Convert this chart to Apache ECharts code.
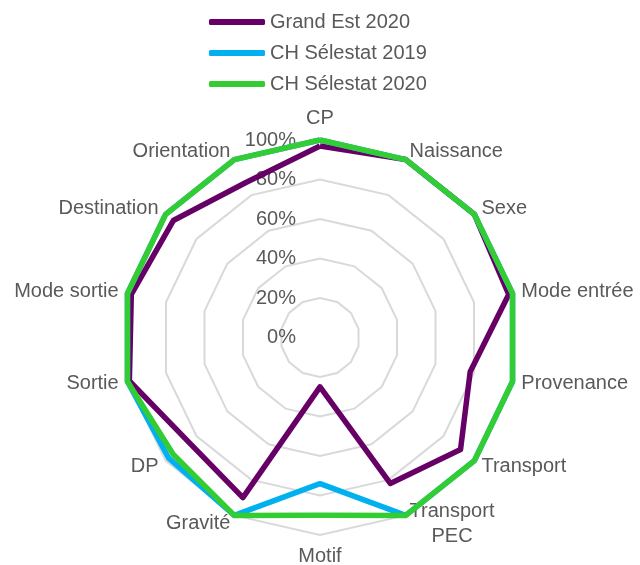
<!DOCTYPE html>
<html><head><meta charset="utf-8">
<script src="https://cdn.jsdelivr.net/npm/echarts@6/dist/echarts.min.js"></script>
<style>html,body{margin:0;padding:0;background:#fff}#c{width:640px;height:565px}</style>
</head><body><div id="c"></div>
<script>
// Categories in the reference's clockwise order, starting at the top
const categories = ['CP','Naissance','Sexe','Mode entrée','Provenance','Transport','Transport\nPEC','Motif','Gravité','DP','Sortie','Mode sortie','Destination','Orientation'];
const seriesNames = ['Grand Est 2020','CH Sélestat 2019','CH Sélestat 2020'];
const grandEst2020 = [0.97,1.00,1.00,0.98,0.78,0.91,0.82,0.25,0.90,0.85,0.99,0.98,0.95,0.87];
const selestat2019 = [1.00,1.00,1.00,1.00,1.00,1.00,1.00,0.74,1.00,0.98,1.00,1.00,1.00,1.00];
const selestat2020 = [1.00,1.00,1.00,1.00,1.00,1.00,1.00,0.90,1.00,0.95,1.00,1.00,1.00,1.00];
const tickLabels = ['0%','20%','40%','60%','80%','100%'];
const colors = ['#660066','#00B0F0','#33CC33'];

const FONT = 'Liberation Sans';
const TXT = '#595959';
// ECharts radar runs counter-clockwise: reorder so the picture runs clockwise
const order = [0].concat(categories.map((_, i) => i).slice(1).reverse());
const pick = arr => order.map(i => arr[i]);

const indicator = pick(categories).map((name, k) => {
  const ind = { name: name, min: 0, max: 1 };
  if (k === 0) {
    ind.axisLabel = {
      show: true, color: TXT, fontSize: 20, fontFamily: FONT, margin: 24,
      formatter: v => tickLabels[Math.round(v * 5)]
    };
  }
  return ind;
});

const chart = echarts.init(document.getElementById('c'), null, { renderer: 'canvas' });
chart.setOption({
  animation: false,
  backgroundColor: '#fff',
  color: colors,
  legend: {
    orient: 'vertical', left: 204, top: 7,
    itemWidth: 56, itemHeight: 6, itemGap: 11, icon: 'roundRect',
    textStyle: { color: TXT, fontSize: 20, fontFamily: FONT, lineHeight: 20 },
    data: seriesNames
  },
  radar: {
    center: [320, 337.5], radius: 197.5, startAngle: 90, splitNumber: 5, shape: 'polygon',
    nameGap: 9,
    axisName: {
      color: TXT, fontSize: 20, fontFamily: FONT,
      formatter: v => v.split('\n').map(s => '{c|' + s + '}').join('\n'),
      rich: { c: { align: 'center', color: TXT, fontSize: 20, fontFamily: FONT, lineHeight: 25 } }
    },
    splitLine: { lineStyle: { color: '#D9D9D9', width: 2 } },
    splitArea: { show: false },
    axisLine: { show: false },
    axisTick: { show: false },
    axisLabel: { show: false },
    indicator: indicator
  },
  series: [{
    type: 'radar', symbol: 'none',
    data: [grandEst2020, selestat2019, selestat2020].map((vals, i) => ({
      name: seriesNames[i], value: pick(vals),
      lineStyle: { color: colors[i], width: 5.5 },
      itemStyle: { color: colors[i] }
    }))
  }]
});
</script></body></html>
